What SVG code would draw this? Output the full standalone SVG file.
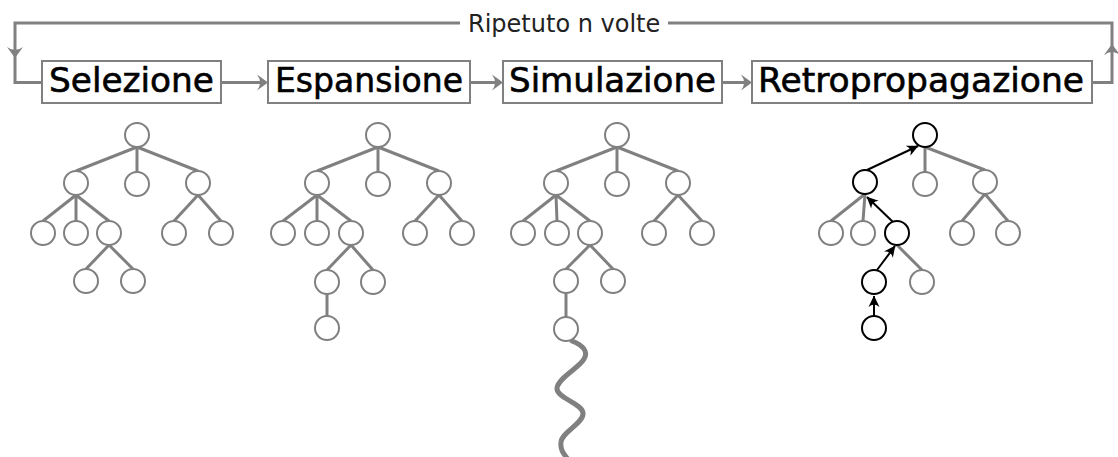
<svg xmlns="http://www.w3.org/2000/svg" width="1118" height="457" viewBox="0 0 1118 457">
<style>
.box{fill:#fff;stroke:#808080;stroke-width:2}
.lbl{font-family:"DejaVu Sans",sans-serif;font-size:34px;fill:#000;stroke:#000;stroke-width:0.6;text-anchor:middle}
.top{font-family:"DejaVu Sans",sans-serif;font-size:24px;fill:#222}
.flow{fill:none;stroke:#808080;stroke-width:3}
.e{stroke:#808080;stroke-width:3}
.eb{stroke:#000;stroke-width:2;fill:none}
.n{fill:#fff;stroke:#808080;stroke-width:2}
.nb{fill:#fff;stroke:#000;stroke-width:2}
.wave{fill:none;stroke:#808080;stroke-width:5;stroke-linecap:round}
</style>
<defs>
<marker id="ag" viewBox="-12 -9 14 18" refX="-1" refY="0" markerWidth="14" markerHeight="18" markerUnits="userSpaceOnUse" orient="auto"><path d="M1,0 L-10,-8 Q-4,0 -10,8 Z" fill="#808080"/></marker>
<marker id="ab" viewBox="-12 -7 13 14" refX="0" refY="0" markerWidth="13" markerHeight="14" markerUnits="userSpaceOnUse" orient="auto"><path d="M0.5,0 L-11,-5.5 Q-6,0 -11,5.5 Z" fill="#000"/></marker>
</defs>
<rect width="1118" height="457" fill="#fff"/>

<g id="connectors">
  <path class="flow" d="M221,82.5 H266" marker-end="url(#ag)"/>
  <path class="flow" d="M470,82.5 H501" marker-end="url(#ag)"/>
  <path class="flow" d="M722,82.5 H750" marker-end="url(#ag)"/>
  <path class="flow" d="M1092,82.5 H1112 V46"  marker-end="url(#ag)"/>
  <path class="flow" d="M1112,48 V23 H668"/>
  <path class="flow" d="M460,23 H15 V56" marker-end="url(#ag)"/>
  <path class="flow" d="M15,54 V82.5 H42"/>
  <text class="top" x="468" y="31.5">Ripetuto n volte</text>

  <!-- tree 1 edges -->
  <g id="edges-t1">
    <line class="e" x1="137" y1="147" x2="76" y2="171"/>
    <line class="e" x1="137" y1="147" x2="137" y2="172"/>
    <line class="e" x1="137" y1="147" x2="198" y2="171"/>
    <line class="e" x1="76" y1="195" x2="43" y2="221"/>
    <line class="e" x1="76" y1="195" x2="76" y2="221"/>
    <line class="e" x1="76" y1="195" x2="109" y2="221"/>
    <line class="e" x1="198" y1="195" x2="174" y2="221"/>
    <line class="e" x1="198" y1="195" x2="221" y2="221"/>
    <line class="e" x1="109" y1="245" x2="86" y2="269"/>
    <line class="e" x1="109" y1="245" x2="133" y2="269"/>
  </g>
  <!-- tree 2 edges -->
  <g id="edges-t2">
    <line class="e" x1="378" y1="147" x2="317" y2="171"/>
    <line class="e" x1="378" y1="147" x2="378" y2="172"/>
    <line class="e" x1="378" y1="147" x2="439" y2="171"/>
    <line class="e" x1="317" y1="195" x2="283" y2="221"/>
    <line class="e" x1="317" y1="195" x2="317" y2="221"/>
    <line class="e" x1="317" y1="195" x2="351" y2="221"/>
    <line class="e" x1="439" y1="195" x2="415" y2="221"/>
    <line class="e" x1="439" y1="195" x2="462" y2="221"/>
    <line class="e" x1="351" y1="245" x2="327" y2="270"/>
    <line class="e" x1="351" y1="245" x2="373" y2="270"/>
    <line class="e" x1="327" y1="294" x2="327" y2="316"/>
  </g>
  <!-- tree 3 edges -->
  <g id="edges-t3">
    <line class="e" x1="617" y1="147" x2="556" y2="171"/>
    <line class="e" x1="617" y1="147" x2="617" y2="172"/>
    <line class="e" x1="617" y1="147" x2="678" y2="171"/>
    <line class="e" x1="556" y1="195" x2="523" y2="221"/>
    <line class="e" x1="556" y1="195" x2="557" y2="221"/>
    <line class="e" x1="556" y1="195" x2="590" y2="221"/>
    <line class="e" x1="678" y1="195" x2="654" y2="221"/>
    <line class="e" x1="678" y1="195" x2="702" y2="221"/>
    <line class="e" x1="590" y1="245" x2="566" y2="269"/>
    <line class="e" x1="590" y1="245" x2="613" y2="269"/>
    <line class="e" x1="566" y1="293" x2="566" y2="317"/>
    <path class="wave" d="M572,341 C582,345 589,351 584,359 C579,368 558,378 557,388 C556,398 582,403 583,413 C584,423 562,432 561,442 C560,450 564,454 567,458"/>
  </g>
  <!-- tree 4 edges -->
  <g id="edges-t4">
    <line class="e" x1="925" y1="147" x2="925" y2="172"/>
    <line class="e" x1="925" y1="147" x2="985" y2="170"/>
    <line class="e" x1="865" y1="194" x2="831" y2="221"/>
    <line class="e" x1="865" y1="194" x2="863" y2="221"/>
    <line class="e" x1="985" y1="194" x2="962" y2="221"/>
    <line class="e" x1="985" y1="194" x2="1008" y2="221"/>
    <line class="e" x1="897" y1="245" x2="922" y2="270"/>
    <line class="eb" x1="867" y1="170" x2="918" y2="146" marker-end="url(#ab)"/>
    <line class="eb" x1="893" y1="222" x2="867" y2="197" marker-end="url(#ab)"/>
    <line class="eb" x1="877" y1="270" x2="895" y2="246" marker-end="url(#ab)"/>
    <line class="eb" x1="874" y1="316" x2="874" y2="296" marker-end="url(#ab)"/>
  </g>
</g>

<g id="box-selezione"><rect class="box" x="42" y="61" width="179" height="42"/><text class="lbl" x="131.5" y="92" textLength="165" lengthAdjust="spacingAndGlyphs">Selezione</text></g>
<g id="box-espansione"><rect class="box" x="268" y="61" width="202" height="42"/><text class="lbl" x="369" y="92" textLength="188" lengthAdjust="spacingAndGlyphs">Espansione</text></g>
<g id="box-simulazione"><rect class="box" x="503" y="61" width="219" height="42"/><text class="lbl" x="612.5" y="92" textLength="207" lengthAdjust="spacingAndGlyphs">Simulazione</text></g>
<g id="box-retropropagazione"><rect class="box" x="752" y="61" width="340" height="42"/><text class="lbl" x="921" y="92" textLength="326" lengthAdjust="spacingAndGlyphs">Retropropagazione</text></g>

<g id="tree1">
  <g id="t1-root"><circle class="n" cx="137" cy="135" r="12"/></g>
  <g id="t1-a"><circle class="n" cx="76" cy="183" r="12"/></g>
  <g id="t1-b"><circle class="n" cx="137" cy="184" r="12"/></g>
  <g id="t1-c"><circle class="n" cx="198" cy="183" r="12"/></g>
  <g id="t1-a1"><circle class="n" cx="43" cy="233" r="12"/></g>
  <g id="t1-a2"><circle class="n" cx="76" cy="233" r="12"/></g>
  <g id="t1-a3"><circle class="n" cx="109" cy="233" r="12"/></g>
  <g id="t1-c1"><circle class="n" cx="174" cy="233" r="12"/></g>
  <g id="t1-c2"><circle class="n" cx="221" cy="233" r="12"/></g>
  <g id="t1-a3a"><circle class="n" cx="86" cy="281" r="12"/></g>
  <g id="t1-a3b"><circle class="n" cx="133" cy="281" r="12"/></g>
</g>
<g id="tree2">
  <g id="t2-root"><circle class="n" cx="378" cy="135" r="12"/></g>
  <g id="t2-a"><circle class="n" cx="317" cy="183" r="12"/></g>
  <g id="t2-b"><circle class="n" cx="378" cy="184" r="12"/></g>
  <g id="t2-c"><circle class="n" cx="439" cy="183" r="12"/></g>
  <g id="t2-a1"><circle class="n" cx="283" cy="233" r="12"/></g>
  <g id="t2-a2"><circle class="n" cx="317" cy="233" r="12"/></g>
  <g id="t2-a3"><circle class="n" cx="351" cy="233" r="12"/></g>
  <g id="t2-c1"><circle class="n" cx="415" cy="233" r="12"/></g>
  <g id="t2-c2"><circle class="n" cx="462" cy="233" r="12"/></g>
  <g id="t2-a3a"><circle class="n" cx="327" cy="282" r="12"/></g>
  <g id="t2-a3b"><circle class="n" cx="373" cy="282" r="12"/></g>
  <g id="t2-new"><circle class="n" cx="327" cy="328" r="12"/></g>
</g>
<g id="tree3">
  <g id="t3-root"><circle class="n" cx="617" cy="135" r="12"/></g>
  <g id="t3-a"><circle class="n" cx="556" cy="183" r="12"/></g>
  <g id="t3-b"><circle class="n" cx="617" cy="184" r="12"/></g>
  <g id="t3-c"><circle class="n" cx="678" cy="183" r="12"/></g>
  <g id="t3-a1"><circle class="n" cx="523" cy="233" r="12"/></g>
  <g id="t3-a2"><circle class="n" cx="557" cy="233" r="12"/></g>
  <g id="t3-a3"><circle class="n" cx="590" cy="233" r="12"/></g>
  <g id="t3-c1"><circle class="n" cx="654" cy="233" r="12"/></g>
  <g id="t3-c2"><circle class="n" cx="702" cy="233" r="12"/></g>
  <g id="t3-a3a"><circle class="n" cx="566" cy="281" r="12"/></g>
  <g id="t3-a3b"><circle class="n" cx="613" cy="281" r="12"/></g>
  <g id="t3-new"><circle class="n" cx="566" cy="329" r="12"/></g>
</g>
<g id="tree4">
  <g id="t4-root"><circle class="nb" cx="925" cy="135" r="12"/></g>
  <g id="t4-a"><circle class="nb" cx="865" cy="182" r="12"/></g>
  <g id="t4-b"><circle class="n" cx="925" cy="184" r="12"/></g>
  <g id="t4-c"><circle class="n" cx="985" cy="182" r="12"/></g>
  <g id="t4-a1"><circle class="n" cx="831" cy="233" r="12"/></g>
  <g id="t4-a2"><circle class="n" cx="863" cy="233" r="12"/></g>
  <g id="t4-a3"><circle class="nb" cx="897" cy="233" r="12"/></g>
  <g id="t4-c1"><circle class="n" cx="962" cy="233" r="12"/></g>
  <g id="t4-c2"><circle class="n" cx="1008" cy="233" r="12"/></g>
  <g id="t4-a3a"><circle class="nb" cx="874" cy="282" r="12"/></g>
  <g id="t4-a3b"><circle class="n" cx="922" cy="282" r="12"/></g>
  <g id="t4-new"><circle class="nb" cx="874" cy="328" r="12"/></g>
</g>
</svg>
